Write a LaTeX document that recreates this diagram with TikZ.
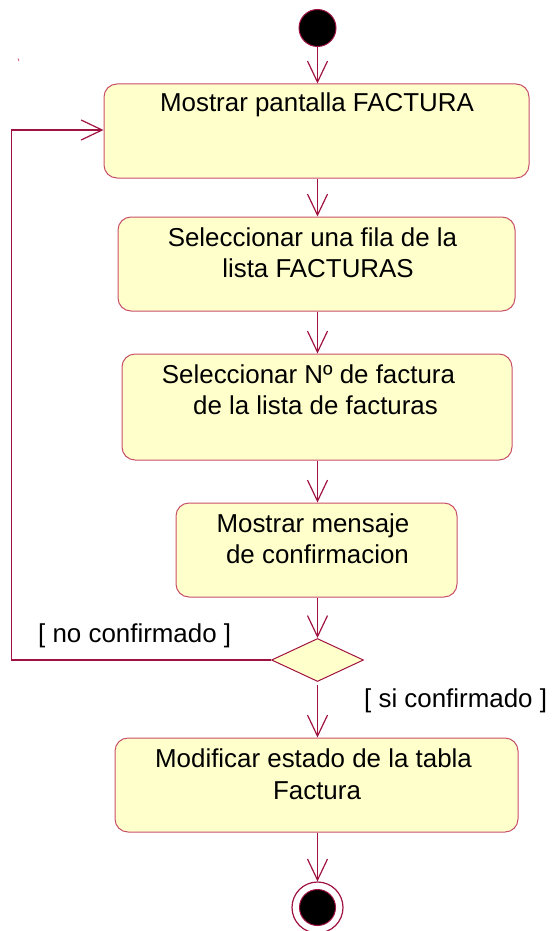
\documentclass[tikz,border=0pt]{standalone}
\usepackage{fontspec}
\setmainfont{Liberation Sans}
\usetikzlibrary{arrows.meta,shapes.geometric}
\definecolor{edgec}{HTML}{A0123F}
\definecolor{bordc}{HTML}{C8506A}
\definecolor{fillc}{HTML}{FFFFCC}
\begin{document}
\begin{tikzpicture}[x=1pt,y=-1pt,
  act/.style={draw=bordc, fill=fillc, rounded corners=13pt, line width=1pt, inner sep=0pt},
  txt/.style={anchor=base, inner sep=0pt, font=\fontsize{25.9}{31}\selectfont},
  flow/.style={draw=edgec, line width=1.2pt, -{Straight Barb[length=21pt,width=20pt,line width=1.2pt]}}]
\useasboundingbox (0,0) rectangle (553,931);
% start
\node[draw=edgec, fill=black, circle, minimum size=37pt, inner sep=0pt, line width=1pt] (start) at (317.5,28) {};
% activities
\node[act, minimum width=425pt, minimum height=94pt] (a1) at (316.5,131) {};
\node[act, minimum width=397pt, minimum height=94pt] (a2) at (316.5,264) {};
\node[act, minimum width=390pt, minimum height=106pt] (a3) at (317,407) {};
\node[act, minimum width=281pt, minimum height=94pt] (a4) at (316.5,550) {};
\node[act, minimum width=403pt, minimum height=94pt] (a5) at (316.5,785) {};
% decision
\node[draw=edgec, fill=fillc, diamond, minimum width=92pt, minimum height=43pt, inner sep=0pt, line width=1pt] (dec) at (317.5,660) {};
% end
\node[draw=edgec, fill=white, circle, minimum size=51pt, inner sep=0pt, line width=1.2pt] (endo) at (317.5,907.5) {};
\node[draw=edgec, fill=black, circle, minimum size=36pt, inner sep=0pt, line width=1pt] (endi) at (endo.center) {};
% texts
\node[txt] (t1) at (317,112) {Mostrar pantalla FACTURA};
\node[txt] (t2a) at (312.5,246) {Seleccionar una fila de la};
\node[txt] (t2b) at (318,277.5) {lista FACTURAS};
\node[txt] (t3a) at (308.5,383) {Seleccionar Nº de factura};
\node[txt] (t3b) at (315.5,414) {de la lista de facturas};
\node[txt] (t4a) at (313,532) {Mostrar mensaje};
\node[txt] (t4b) at (317.5,563) {de confirmacion};
\node[txt] (t5a) at (313.5,767) {Modificar estado de la tabla};
\node[txt] (t5b) at (317,799) {Factura};
% guard labels
\node[txt, anchor=base west] (lno) at (38,642) {[ no confirmado ]};
\node[txt, anchor=base west] (lsi) at (364,707.5) {[ si confirmado ]};
% connectors
\draw[flow] (start.south) -- (start.south |- a1.north);
\draw[flow] (a1.south -| start) -- (a2.north -| start);
\draw[flow] (a2.south -| start) -- (a3.north -| start);
\draw[flow] (a3.south -| start) -- (a4.north -| start);
\draw[flow] (a4.south -| start) -- (dec.north);
\draw[flow] (dec.south) ++(0,3) -- (a5.north -| dec);
\draw[flow] (a5.south -| start) -- (endo.north);
\coordinate (lp) at (11.5,0);
\draw[flow] (dec.west) -- (dec.west -| lp) -- (lp |- 0,130) -- (a1.west |- 0,130);
% stray mark
\draw[bordc, line width=0.8pt] (18,58.5) -- (19,61);
\end{tikzpicture}
\end{document}
